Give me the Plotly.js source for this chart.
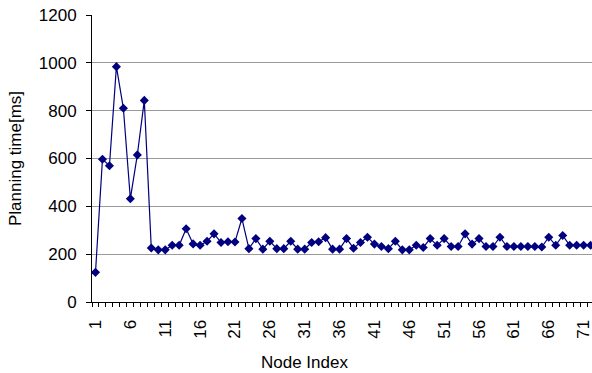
<!DOCTYPE html>
<html>
<head>
<meta charset="utf-8">
<script src="https://cdn.plot.ly/plotly-3.0.1.min.js"></script>
<style>html,body{margin:0;padding:0;background:#fff;}#chart{width:592px;height:373px;}</style>
</head>
<body>
<div id="chart"></div>
<script>
// Node index 1..72
const nodeIndex = [];
for (let i = 1; i <= 72; i++) nodeIndex.push(i);

// Planning time [ms]
const planningTime = [
  124, 597, 570, 984, 810, 432, 615, 843, 226, 218,
  218, 237, 237, 306, 243, 237, 254, 285, 249, 252,
  251, 349, 223, 265, 221, 254, 223, 223, 254, 221,
  221, 249, 252, 269, 221, 221, 265, 225, 249, 271,
  242, 232, 223, 254, 218, 218, 237, 228, 265, 237,
  265, 232, 232, 285, 242, 265, 232, 232, 271, 232,
  232, 232, 232, 232, 230, 271, 237, 278, 237, 237,
  237, 237
];

const tickVals = [1, 6, 11, 16, 21, 26, 31, 36, 41, 46, 51, 56, 61, 66, 71];
const tickText = tickVals.map(String);
const yTicks = [0, 200, 400, 600, 800, 1000, 1200];

const FONT = 'Liberation Sans, Arial, sans-serif';

const trace = {
  x: nodeIndex,
  y: planningTime,
  type: 'scatter',
  mode: 'lines+markers',
  line: {color: '#000080', width: 1.2},
  marker: {symbol: 'diamond', size: 7, color: '#000080'},
  hoverinfo: 'x+y',
  cliponaxis: true
};

const layout = {
  width: 592,
  height: 373,
  margin: {l: 92, r: 0, t: 15, b: 71},
  paper_bgcolor: '#ffffff',
  plot_bgcolor: '#ffffff',
  showlegend: false,
  font: {family: FONT, size: 17, color: '#000'},
  xaxis: {
    range: [0.5, 72.2],
    tickmode: 'array',
    tickvals: tickVals,
    ticktext: tickText,
    tickangle: -90,
    ticks: '',
    ticklabelstandoff: 10,
    ticklabeloverflow: 'allow',
    showgrid: false,
    zeroline: false,
    showline: true,
    linecolor: '#000',
    linewidth: 1,
    tickfont: {family: FONT, size: 17, color: '#000'},
    minor: {
      tickmode: 'linear',
      tick0: 0.5,
      dtick: 1,
      ticks: 'outside',
      ticklen: 4,
      tickwidth: 1,
      tickcolor: '#000',
      showgrid: false
    }
  },
  yaxis: {
    range: [0, 1200],
    tickmode: 'array',
    tickvals: yTicks,
    ticktext: yTicks.map(String),
    ticks: 'outside',
    ticklen: 5,
    tickwidth: 1,
    tickcolor: '#000',
    ticklabelstandoff: 6,
    showgrid: true,
    gridcolor: '#9a9a9a',
    gridwidth: 1,
    zeroline: false,
    showline: true,
    linecolor: '#000',
    linewidth: 1,
    tickfont: {family: FONT, size: 17, color: '#000'},
    title: {text: 'Planning time[ms]', font: {family: FONT, size: 17, color: '#000'}, standoff: 12}
  },
  annotations: [{
    text: 'Node Index',
    xref: 'paper', yref: 'paper',
    x: 0.424, y: 0,
    xanchor: 'center', yanchor: 'top',
    yshift: -49,
    showarrow: false,
    font: {family: FONT, size: 17, color: '#000'}
  }]
};

Plotly.newPlot('chart', [trace], layout, {displayModeBar: false, staticPlot: true});
</script>
</body>
</html>
